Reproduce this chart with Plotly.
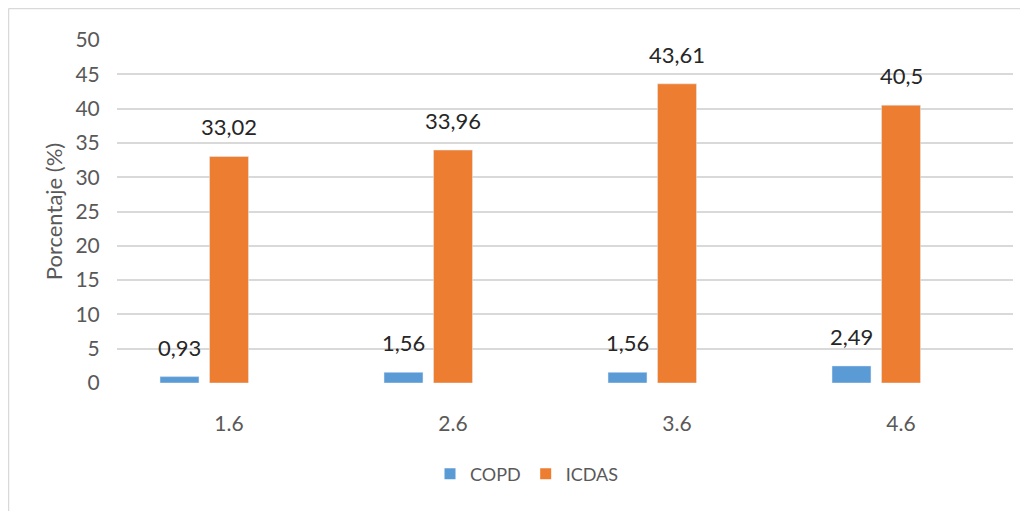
import plotly.graph_objects as go

categories = ["1.6", "2.6", "3.6", "4.6"]
copd = [0.93, 1.56, 1.56, 2.49]
icdas = [33.02, 33.96, 43.61, 40.5]
y_ticks = list(range(0, 51, 5))

BLUE = "#5B9BD5"
ORANGE = "#ED7D31"
FONT = "Lato"

# page body has an 8px margin, so the figure is drawn 8px lower/right
OFF = 8
W, H = 1020, 503
L, R, T, B = 117 - OFF, 15, 40 - OFF, 128
pw = W - L - R
ph = H - T - B

bar_w = 0.174
copd_center = -0.221
icdas_center = 0.0

fig = go.Figure()
fig.add_trace(go.Bar(x=categories, y=copd, name="COPD", marker_color=BLUE, showlegend=False,
                     width=bar_w, offset=copd_center - bar_w / 2))
fig.add_trace(go.Bar(x=categories, y=icdas, name="ICDAS", marker_color=ORANGE, showlegend=False,
                     width=bar_w, offset=icdas_center - bar_w / 2))
# legend entries with square swatches
for name, col in (("COPD", BLUE), ("ICDAS", ORANGE)):
    fig.add_trace(go.Scatter(x=[None], y=[None], mode="markers", name=name,
                             marker=dict(symbol="square", size=11, color=col)))

def fmt(v):
    return f"{v:g}".replace(".", ",")

annotations = []
for i, v in enumerate(copd):
    annotations.append(dict(x=i + copd_center, y=v, xref="x", yref="y", text=fmt(v), showarrow=False,
                            yshift=14, yanchor="bottom",
                            font=dict(family=FONT, size=22, color="#262626")))
for i, v in enumerate(icdas):
    annotations.append(dict(x=i + icdas_center, y=v, xref="x", yref="y", text=fmt(v), showarrow=False,
                            yshift=14, yanchor="bottom",
                            font=dict(family=FONT, size=22, color="#262626")))

def px_x(p):
    return (p - OFF - L) / pw

def px_y(p):
    return (H - B - (p - OFF)) / ph

shapes = [
    dict(type="line", xref="paper", yref="paper", x0=px_x(8.5), x1=px_x(8.5), y0=px_y(8.5), y1=px_y(520),
         line=dict(color="#D9D9D9", width=1.5)),
    dict(type="line", xref="paper", yref="paper", x0=px_x(8.5), x1=px_x(1030), y0=px_y(8.5), y1=px_y(8.5),
         line=dict(color="#D9D9D9", width=1.5)),
]

fig.update_layout(
    width=W, height=H,
    margin=dict(l=L, r=R, t=T, b=B, autoexpand=False),
    paper_bgcolor="white", plot_bgcolor="white",
    barmode="overlay",
    font=dict(family=FONT, color="#595959"),
    annotations=annotations,
    shapes=shapes,
    legend=dict(orientation="h", x=px_x(527), y=px_y(474), xanchor="center", yanchor="middle",
                font=dict(family=FONT, size=18, color="#595959"), itemwidth=30,
                tracegroupgap=0, traceorder="normal"),
    xaxis=dict(type="category", range=[-0.5, 3.5], showgrid=False, showline=False, zeroline=False,
               automargin=False,
               tickfont=dict(family=FONT, size=21, color="#595959"),
               ticks="outside", ticklen=22, tickcolor="rgba(0,0,0,0)"),
    yaxis=dict(range=[0, 50], tickvals=y_ticks, showgrid=True, gridcolor="#D9D9D9", gridwidth=1.5,
               zeroline=False, showline=False, automargin=False,
               tickfont=dict(family=FONT, size=21, color="#595959"),
               ticks="outside", ticklen=12, tickcolor="rgba(0,0,0,0)",
               title=dict(text="Porcentaje (%)", font=dict(family=FONT, size=22, color="#595959"),
                          standoff=6)),
)

fig.write_html("out.html")
